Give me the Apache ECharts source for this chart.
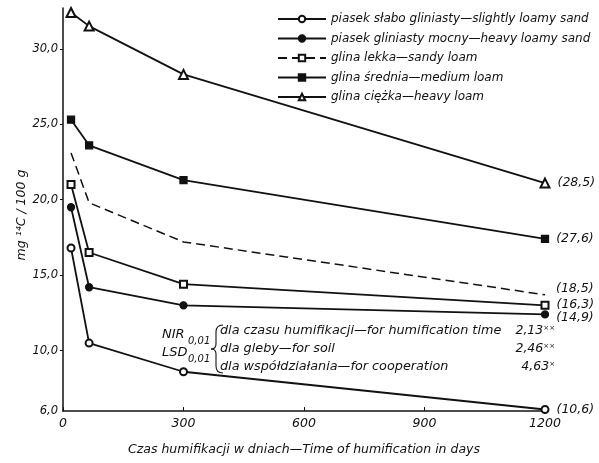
<!DOCTYPE html>
<html><head><meta charset="utf-8">
<script src="https://cdn.jsdelivr.net/npm/echarts@6/dist/echarts.min.js"></script>
<style>html,body{margin:0;padding:0;background:#fff}#c{width:599px;height:463px}</style>
</head><body><div id="c"></div>
<script>
// ---- data ----
const days = [20, 65, 300, 1200];
const slightlyLoamySand = [16.8, 10.5, 8.6, 6.1];
const heavyLoamySand = [19.5, 14.2, 13.0, 12.4];
const sandyLoamDashed = [23.1, 19.8, 17.2, 13.7];
const sandyLoam = [21.0, 16.5, 14.4, 13.0];
const mediumLoam = [25.3, 23.6, 21.3, 17.4];
const heavyLoam = [32.4, 31.5, 28.3, 21.1];
const endNotes = ['(10,6)', '(14,9)', '(18,5)', '(16,3)', '(27,6)', '(28,5)'];
const seriesNames = [
  'piasek słabo gliniasty—slightly loamy sand',
  'piasek gliniasty mocny—heavy loamy sand',
  'glina lekka—sandy loam',
  'glina średnia—medium loam',
  'glina ciężka—heavy loam'
];
const yTicks = [6, 10, 15, 20, 25, 30];
const xTicks = [0, 300, 600, 900, 1200];
const lsdLabels = ['dla czasu humifikacji—for humification time', 'dla gleby—for soil', 'dla współdziałania—for cooperation'];
const lsdValues = ['2,13', '2,46', '4,63'];
const lsdStars = ['××', '××', '×'];

const FONT = '"DejaVu Sans", "Liberation Sans", sans-serif';
const INK = '#111';

function mk(vals, note, off) {
  return days.map((d, i) => {
    const p = { value: [d, vals[i]] };
    if (i === days.length - 1) {
      p.label = { show: true, position: 'right', distance: 7, formatter: note, offset: off || [0, 0],
        fontFamily: FONT, fontStyle: 'italic', fontSize: 12.5, color: INK };
    }
    return p;
  });
}
function line(name, vals, note, symbol, size, opts) {
  return Object.assign({
    type: 'line', name: name, data: mk(vals, note, opts && opts.off),
    symbol: symbol, symbolSize: size, showSymbol: true,
    lineStyle: { color: INK, width: 1.8 },
    itemStyle: { color: INK, borderColor: INK, borderWidth: 1.3 },
    emphasis: { disabled: true }
  }, opts && opts.extra);
}

const series = [
  line(seriesNames[0], slightlyLoamySand, endNotes[0], 'emptyCircle', 7),
  line(seriesNames[1], heavyLoamySand, endNotes[1], 'circle', 7, { off: [0, 3] }),
  line(seriesNames[2], sandyLoamDashed, endNotes[2], 'emptyRect', 0, { off: [4, -6], extra: {
    lineStyle: { color: INK, width: 1.5, type: [9, 5] } } }),
  line(seriesNames[2], sandyLoam, endNotes[3], 'emptyRect', 7, { off: [0, -1] }),
  line(seriesNames[3], mediumLoam, endNotes[4], 'rect', 7),
  line(seriesNames[4], heavyLoam, endNotes[5], 'emptyTriangle', 9)
];

const txt = (x, y, text, size, align) => ({ type: 'text', x: x, y: y, style: {
  text: text, fontFamily: FONT, fontStyle: 'italic', fontSize: size || 12.5, fill: INK,
  align: align || 'left', verticalAlign: 'middle' } });
const curve = (x1, y1, cx, cy, x2, y2) => ({ type: 'bezierCurve',
  shape: { x1: x1, y1: y1, cpx1: cx, cpy1: cy, x2: x2, y2: y2 },
  style: { stroke: INK, lineWidth: 1.1, fill: null } });
const seg = (x1, y1, x2, y2) => ({ type: 'line', shape: { x1: x1, y1: y1, x2: x2, y2: y2 },
  style: { stroke: INK, lineWidth: 1.1 } });

const graphic = [
  { type: 'text', x: 22, y: 215, rotation: Math.PI / 2, style: { text: 'mg ¹⁴C / 100 g',
    fontFamily: FONT, fontStyle: 'italic', fontSize: 12.5, fill: INK, align: 'center', verticalAlign: 'middle' } },
  txt(162, 335, 'NIR', 13), txt(188, 341, '0,01', 10),
  txt(162, 353, 'LSD', 13), txt(188, 359, '0,01', 10),
  curve(223, 325, 216, 325, 216, 332), seg(216, 332, 216, 344), curve(216, 344, 216, 349, 211, 349),
  curve(211, 349, 216, 349, 216, 354), seg(216, 354, 216, 366), curve(216, 366, 216, 373, 223, 373)
];
lsdLabels.forEach((t, i) => {
  graphic.push(txt(220, 331 + i * 18, t, 12.8));
  graphic.push({ type: 'text', x: 555, y: 331 + i * 18, style: {
    text: '{v|' + lsdValues[i] + '}{s|' + lsdStars[i] + '}', align: 'right', verticalAlign: 'middle',
    rich: { v: { fontFamily: FONT, fontStyle: 'italic', fontSize: 12.5, fill: INK },
            s: { fontFamily: FONT, fontSize: 7, fill: INK, verticalAlign: 'top', padding: [0, 0, 6, 0] } } } });
});

const chart = echarts.init(document.getElementById('c'), null, { renderer: 'canvas' });
chart.setOption({
  animation: false,
  backgroundColor: '#fff',
  grid: { left: 63, right: 54, top: 8, bottom: 52 },
  legend: {
    orient: 'vertical', left: 272, top: 8, itemWidth: 48, itemHeight: 8, itemGap: 7.5,
    data: seriesNames,
    textStyle: { fontFamily: FONT, fontStyle: 'italic', fontSize: 12, color: INK },
    selectedMode: false
  },
  xAxis: {
    type: 'value', min: 0, max: 1200, interval: 300,
    name: 'Czas humifikacji w dniach—Time of humification in days',
    nameLocation: 'middle', nameGap: 32,
    nameTextStyle: { fontFamily: FONT, fontStyle: 'italic', fontSize: 12.5, color: INK },
    axisLine: { lineStyle: { color: INK, width: 1.5 } },
    axisTick: { inside: true, length: 4, lineStyle: { color: INK } },
    axisLabel: { fontFamily: FONT, fontStyle: 'italic', fontSize: 12.5, color: INK, margin: 6,
      customValues: xTicks, formatter: v => String(v) },
    splitLine: { show: false }
  },
  yAxis: {
    type: 'value', min: 6, max: 32.7,
    axisLine: { show: true, lineStyle: { color: INK, width: 1.5 } },
    axisTick: { show: true, inside: false, length: 3, lineStyle: { color: INK }, customValues: yTicks.slice(1) },
    axisLabel: { fontFamily: FONT, fontStyle: 'italic', fontSize: 11.5, color: INK, margin: 5,
      customValues: yTicks, formatter: v => v.toFixed(1).replace('.', ',') },
    splitLine: { show: false }
  },
  series: series,
  graphic: graphic
});
</script></body></html>
